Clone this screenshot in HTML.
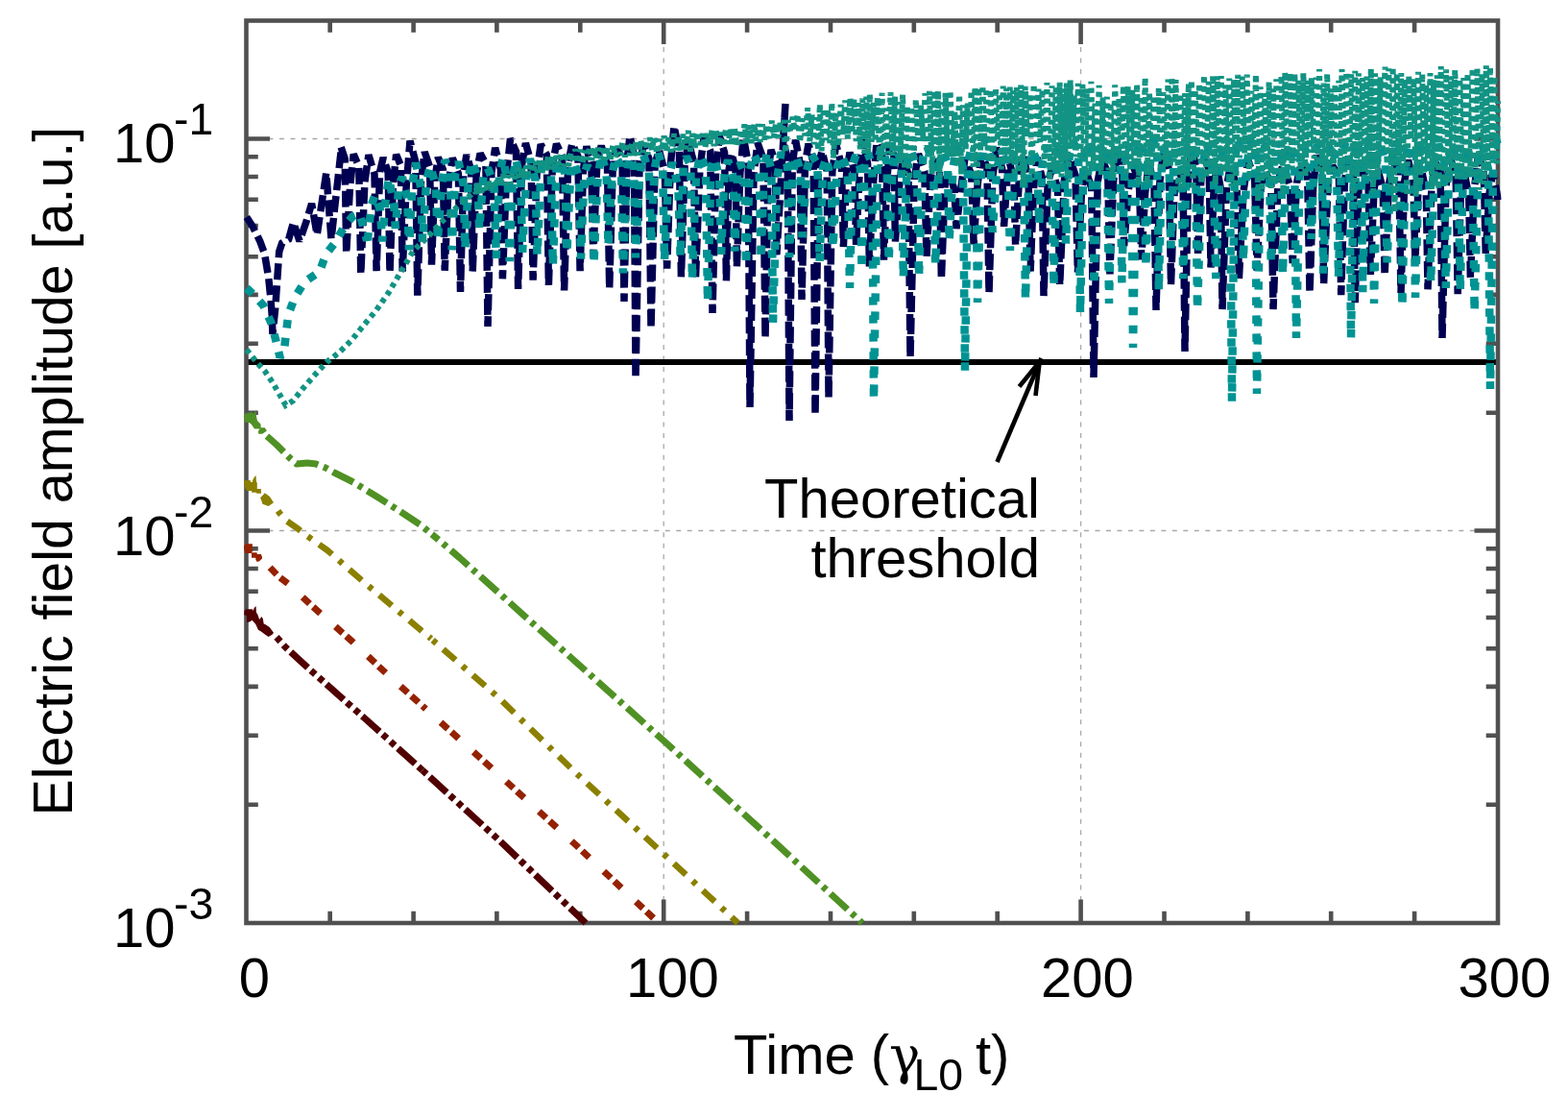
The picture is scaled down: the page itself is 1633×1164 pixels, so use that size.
<!DOCTYPE html>
<html><head><meta charset="utf-8"><title>Electric field amplitude vs time</title>
<style>html,body{margin:0;padding:0;background:#fff;overflow:hidden}svg{display:block}</style>
</head><body><svg width="1633" height="1164" viewBox="0 0 1633 1164"><g stroke="#a8a8a8" stroke-width="1.3" stroke-dasharray="5 6.48"><line x1="691.2" y1="961" x2="691.2" y2="21.5"/><line x1="1125.6" y1="961" x2="1125.6" y2="21.5"/><line x1="256.5" y1="144.5" x2="1560" y2="144.5"/><line x1="256.5" y1="552.5" x2="1560" y2="552.5"/></g><line x1="257" y1="377" x2="1560" y2="377" stroke="#000" stroke-width="6"/><path d="M343.7 961v-12.3M343.7 21.5v12.3M430.6 961v-12.3M430.6 21.5v12.3M517.4 961v-12.3M517.4 21.5v12.3M604.3 961v-12.3M604.3 21.5v12.3M691.2 961v-24.5M691.2 21.5v24.5M778.1 961v-12.3M778.1 21.5v12.3M865.0 961v-12.3M865.0 21.5v12.3M951.8 961v-12.3M951.8 21.5v12.3M1038.7 961v-12.3M1038.7 21.5v12.3M1125.6 961v-24.5M1125.6 21.5v24.5M1212.5 961v-12.3M1212.5 21.5v12.3M1299.4 961v-12.3M1299.4 21.5v12.3M1386.2 961v-12.3M1386.2 21.5v12.3M1473.1 961v-12.3M1473.1 21.5v12.3M256.5 837.7h12.3M1560 837.7h-12.3M256.5 765.8h12.3M1560 765.8h-12.3M256.5 714.9h12.3M1560 714.9h-12.3M256.5 675.3h12.3M1560 675.3h-12.3M256.5 643.0h12.3M1560 643.0h-12.3M256.5 615.7h12.3M1560 615.7h-12.3M256.5 592.0h12.3M1560 592.0h-12.3M256.5 571.2h12.3M1560 571.2h-12.3M256.5 552.5h24.5M1560 552.5h-24.5M256.5 429.7h12.3M1560 429.7h-12.3M256.5 357.8h12.3M1560 357.8h-12.3M256.5 306.9h12.3M1560 306.9h-12.3M256.5 267.3h12.3M1560 267.3h-12.3M256.5 235.0h12.3M1560 235.0h-12.3M256.5 207.7h12.3M1560 207.7h-12.3M256.5 184.0h12.3M1560 184.0h-12.3M256.5 163.2h12.3M1560 163.2h-12.3M256.5 144.5h24.5M1560 144.5h-24.5" stroke="#505050" stroke-width="4.6" fill="none"/><rect x="256.5" y="21.5" width="1303.5" height="939.5" stroke="#505050" stroke-width="4.6" fill="none"/><defs><clipPath id="pc"><rect x="250" y="15" width="1313.5" height="950"/></clipPath></defs><g clip-path="url(#pc)"><path d="M256.8 226.0L263.3 236.0L270.7 251.0L275.5 264.0L277.7 277.0L279.8 290.0L282.0 312.0L283.3 329.0L283.9 348.0L286.8 320.0L288.5 295.0L290.7 262.0L293.7 253.0L300.7 249.0L305.5 231.6L312.0 251.0L319.4 229.5L324.6 212.0L330.2 244.5L339.8 180.0L345.0 249.0L355.0 158.6L355.0 152.8L359.2 165.1L360.7 263.7L364.5 194.6L368.2 160.6L373.8 173.3L375.8 285.5L379.9 189.2L383.9 161.4L390.0 181.4L392.1 282.2L395.6 179.0L399.1 164.1L404.2 179.7L406.0 283.9L409.3 193.5L412.6 161.0L417.4 172.3L419.2 282.5L423.1 195.0L427.0 146.6L432.8 168.4L434.8 307.6L438.5 189.1L442.2 158.1L447.6 173.8L449.5 275.7L452.9 186.2L456.3 163.9L461.4 176.4L463.2 281.8L467.2 189.4L471.3 164.5L477.4 180.6L479.5 303.9L482.7 181.1L485.9 161.2L490.6 177.1L492.2 282.5L496.2 180.6L500.1 159.7L505.9 170.4L508.0 340.0L511.9 179.8L515.7 153.8L521.4 176.2L523.4 290.3L527.5 182.0L531.5 144.3L537.5 157.8L539.6 300.9L543.5 171.5L547.4 149.1L553.1 169.3L555.1 291.7L559.2 178.1L563.2 150.4L569.3 161.0L571.4 296.9L575.4 171.0L579.5 149.8L585.5 162.4L587.6 302.5L591.7 170.7L595.8 149.6L601.9 162.7L604.1 282.1L607.5 176.3L610.9 152.3L616.0 177.2L617.8 268.5L622.0 164.8L626.2 152.0L632.5 171.6L634.7 300.5L638.5 163.6L642.3 154.2L648.0 164.4L650.0 314.0L653.0 167.4L656.0 141.4L660.4 162.5L662.0 394.0L666.0 175.4L670.0 150.6L675.9 165.2L678.0 342.0L682.1 171.3L686.3 156.1L692.4 179.2L694.6 279.7L698.3 172.2L702.0 131.4L707.4 157.8L709.4 288.3L713.1 172.8L716.9 147.7L722.5 168.7L724.5 288.9L728.9 175.3L733.2 142.3L739.7 157.1L742.0 326.0L745.6 178.1L749.2 141.4L754.6 159.1L756.4 292.3L759.2 176.1L761.9 159.6L766.0 175.6L767.4 277.8L770.8 180.7L774.2 143.1L779.2 169.4L781.0 424.0L785.0 181.7L789.0 148.9L794.9 165.1L797.0 352.0L800.0 178.0L803.0 156.0L807.4 167.9L808.9 265.4L818.0 108.0L815.5 147.6L820.3 164.5L822.0 438.0L825.2 172.2L828.5 145.7L833.3 170.6L835.0 312.0L838.5 170.7L842.0 149.7L847.2 169.8L849.0 432.0L852.5 171.3L856.0 157.4L861.2 177.7L863.0 414.0L866.8 178.4L870.7 150.2L876.4 172.0L878.4 257.0L881.7 179.3L885.0 158.5L889.9 179.2L891.6 254.9L895.0 182.6L898.5 144.9L903.6 170.5L905.4 277.5L909.2 194.6L913.0 148.1L918.5 161.3L920.5 270.6L923.5 193.5L926.5 149.1L930.9 161.9L932.4 251.5L936.3 197.0L940.2 163.6L946.0 181.6L948.0 372.0L952.3 185.5L956.5 160.3L962.8 178.3L965.0 268.5L968.9 188.1L972.7 166.3L978.4 177.7L980.4 290.7L984.3 189.3L988.2 179.1L993.9 197.3L996.0 238.1L1000.5 198.2L1005.0 164.3L1011.7 182.1L1014.1 254.3L1018.1 192.5L1022.0 160.7L1027.9 173.8L1030.0 305.0L1033.9 183.1L1037.8 153.7L1043.5 175.1L1045.6 235.8L1048.6 188.9L1051.6 170.0L1056.0 187.3L1057.6 255.7L1061.5 184.0L1065.4 161.2L1071.1 187.1L1073.1 282.7L1076.6 195.5L1080.1 164.2L1085.2 184.6L1087.0 308.0L1091.2 190.7L1095.4 175.5L1101.5 195.6L1103.7 297.1L1108.4 187.6L1113.1 161.7L1120.0 182.4L1122.4 283.5L1126.6 196.9L1130.7 176.5L1136.8 196.2L1139.0 393.0L1143.2 189.2L1147.5 165.4L1153.7 180.2L1155.9 285.4L1159.6 189.4L1163.3 155.7L1168.7 170.9L1170.6 256.1L1175.2 197.9L1179.7 171.8L1186.4 189.7L1188.8 270.4L1192.6 201.7L1196.4 168.3L1202.0 194.5L1204.0 323.0L1207.9 189.5L1211.7 156.9L1217.5 176.5L1219.5 296.4L1223.1 199.6L1226.7 175.7L1232.1 187.9L1234.0 366.0L1237.4 188.7L1240.8 152.5L1245.8 174.5L1247.6 266.2L1250.9 185.3L1254.3 165.9L1259.2 175.9L1261.0 278.5L1264.0 200.7L1267.0 173.4L1271.4 196.5L1273.0 322.0L1277.4 194.7L1281.7 171.1L1288.2 197.7L1290.4 290.0L1295.1 198.6L1299.8 166.6L1306.7 187.0L1309.1 281.6L1313.3 192.3L1317.6 178.3L1323.8 192.1L1326.0 322.0L1331.0 189.5L1336.1 171.5L1343.5 193.3L1346.2 274.2L1350.6 189.9L1355.1 170.3L1361.7 182.1L1364.0 305.0L1367.7 192.4L1371.3 161.4L1376.7 181.0L1378.6 295.8L1383.2 187.3L1387.7 172.5L1394.4 183.6L1396.7 307.2L1400.3 190.2L1404.0 162.9L1409.3 172.8L1411.2 315.2L1415.2 191.4L1419.2 175.1L1425.2 197.4L1427.3 285.8L1431.0 197.1L1434.7 176.3L1440.2 196.0L1442.1 286.9L1446.3 193.8L1450.5 168.2L1456.8 177.9L1459.0 305.0L1462.7 188.6L1466.5 166.6L1472.0 190.2L1473.9 271.9L1477.2 190.6L1480.5 177.1L1485.3 200.3L1487.0 301.3L1490.8 198.0L1494.5 168.7L1500.1 178.4L1502.0 352.0L1506.0 193.8L1510.1 165.9L1516.1 178.4L1518.2 306.2L1521.5 197.6L1524.8 178.5L1529.7 203.9L1531.4 289.4L1535.4 196.8L1539.4 162.7L1545.2 176.5L1547.3 263.9L1550.9 202.3L1554.6 179.7L1560.0 206.4L1560.0 208.0" stroke="#000050" stroke-width="7.5" stroke-dasharray="17 6" fill="none" stroke-linejoin="miter" stroke-miterlimit="2" /><path d="M256.8 300.0L265.5 308.0L274.2 318.0L282.4 336.0L287.2 354.0L291.6 372.0L293.7 368.0L295.9 365.0L298.1 346.0L300.2 328.0L306.8 310.0L317.6 293.0L332.8 283.0L339.3 265.0L350.2 251.0L358.9 235.0L367.6 225.0L374.1 222.0L375.4 225.6L381.2 247.1L383.2 246.8L386.9 213.1L390.6 203.1L396.1 219.1L398.0 251.5L401.5 209.0L405.0 185.6L410.1 211.5L411.9 237.9L415.5 192.4L419.0 184.5L424.2 206.3L426.0 260.3L429.6 191.4L433.1 169.5L438.3 195.8L440.1 251.9L444.1 189.2L448.0 172.6L453.8 192.9L455.9 250.2L459.6 198.2L463.3 166.4L468.8 178.8L470.7 260.2L474.2 180.6L477.6 168.4L482.7 192.9L484.4 259.4L488.1 182.8L491.8 167.7L497.3 185.5L499.2 239.2L503.6 181.9L508.0 174.9L514.5 191.9L516.8 268.8L520.2 182.1L523.7 164.5L528.8 190.2L530.6 272.1L533.9 187.7L537.3 165.4L542.3 189.8L544.1 262.9L547.9 186.1L551.8 165.2L557.5 187.5L559.5 265.6L563.6 175.3L567.7 164.0L573.7 173.7L575.8 276.4L579.5 175.8L583.1 167.7L588.5 180.6L590.4 263.2L594.1 181.2L597.7 168.5L603.1 185.0L605.0 269.5L608.4 181.1L611.7 171.6L616.7 193.3L618.5 274.7L622.2 189.8L626.0 160.9L631.6 179.0L633.5 256.3L637.4 182.7L641.2 162.8L646.9 172.7L648.9 284.3L652.1 188.6L655.3 163.1L660.1 172.4L661.8 268.3L665.9 186.5L669.9 160.6L675.9 179.1L678.1 252.9L681.5 177.5L685.0 157.3L690.2 176.3L692.0 271.1L696.1 186.2L700.3 169.2L706.4 195.3L708.6 267.6L711.7 173.4L714.8 163.0L719.3 172.3L720.9 291.1L724.9 184.7L729.0 161.2L734.9 174.7L737.0 314.0L740.5 175.5L744.1 164.6L749.3 185.8L751.1 264.8L754.7 176.7L758.2 166.9L763.5 184.7L765.3 261.7L768.2 176.0L771.1 170.0L775.5 182.5L777.0 275.9L780.9 177.8L784.8 160.1L790.5 172.3L792.6 269.7L795.7 178.5L798.8 158.0L803.4 177.8L805.0 336.0L809.3 186.4L813.6 158.5L819.9 171.9L822.1 267.9L825.5 184.9L828.8 161.9L833.8 178.0L835.6 247.1L840.1 177.9L844.6 159.8L851.3 170.7L853.6 272.4L857.1 175.0L860.6 164.3L865.7 190.3L867.5 258.1L871.9 173.9L876.3 161.6L882.7 177.1L885.0 300.0L888.1 171.4L891.3 161.7L895.9 174.8L897.5 280.1L900.6 166.3L903.8 159.7L908.4 171.5L910.0 416.0L913.9 167.5L917.8 153.4L923.6 169.2L925.6 272.0L929.4 178.8L933.2 156.7L938.8 166.1L940.8 289.1L944.8 168.3L948.9 157.2L954.9 174.8L957.0 288.0L961.3 164.0L965.6 152.4L972.0 170.8L974.2 275.5L977.8 174.8L981.4 156.8L986.8 169.2L988.6 251.1L992.7 173.4L996.8 151.9L1002.9 175.1L1005.0 386.0L1008.2 168.9L1011.5 154.1L1016.3 164.3L1018.0 315.0L1021.9 177.9L1025.8 144.7L1031.6 162.8L1033.6 241.9L1038.2 175.2L1042.8 158.6L1049.5 172.3L1051.9 260.8L1055.9 174.7L1060.0 150.9L1065.9 168.4L1068.0 312.0L1071.5 176.3L1075.0 156.5L1080.3 167.9L1082.1 233.7L1085.9 167.5L1089.7 153.5L1095.4 176.6L1097.4 298.3L1100.5 172.5L1103.7 147.0L1108.3 159.5L1110.0 253.5L1113.7 160.8L1117.5 147.7L1123.0 158.0L1125.0 326.0L1128.6 163.3L1132.2 148.7L1137.6 172.8L1139.5 297.5L1143.3 161.0L1147.2 150.7L1153.0 160.8L1155.0 316.0L1158.3 174.6L1161.7 152.7L1166.6 162.0L1168.4 294.4L1171.3 170.3L1174.2 149.9L1178.5 162.6L1180.0 362.0L1183.4 166.3L1186.7 145.1L1191.7 164.4L1193.4 277.8L1196.8 177.4L1200.1 140.1L1205.1 159.8L1206.8 302.6L1210.0 168.3L1213.1 152.3L1217.8 173.1L1219.4 258.3L1222.6 160.6L1225.8 150.1L1230.5 169.7L1232.2 290.1L1235.9 169.9L1239.6 149.0L1245.1 162.4L1247.0 322.0L1251.8 177.1L1256.6 149.5L1263.8 174.6L1266.3 290.1L1270.5 169.6L1274.6 154.6L1280.8 165.2L1283.0 418.0L1285.9 168.3L1288.9 144.4L1293.2 162.8L1294.8 271.7L1298.3 176.6L1301.9 144.8L1307.2 159.2L1309.0 410.0L1312.7 160.0L1316.3 149.6L1321.8 164.2L1323.7 274.1L1326.8 163.3L1329.8 148.0L1334.3 159.8L1335.9 285.8L1339.5 166.5L1343.0 151.0L1348.2 161.2L1350.0 352.0L1353.9 167.9L1357.8 151.2L1363.6 167.0L1365.6 248.8L1368.7 166.8L1371.9 150.7L1376.6 164.0L1378.2 284.6L1382.2 162.0L1386.1 149.3L1392.0 170.2L1394.0 288.8L1397.3 161.5L1400.5 149.9L1405.3 166.6L1407.0 352.0L1410.0 172.1L1413.1 147.1L1417.6 166.1L1419.2 304.2L1422.1 168.4L1425.1 147.5L1429.5 173.5L1431.0 316.0L1434.4 160.1L1437.8 151.8L1442.8 167.2L1444.6 273.4L1448.5 170.5L1452.5 150.3L1458.3 174.1L1460.4 319.2L1463.8 163.2L1467.2 149.9L1472.2 167.7L1474.0 310.0L1478.0 161.4L1482.1 147.0L1488.0 169.2L1490.1 294.3L1494.0 166.8L1497.9 150.6L1503.7 162.2L1505.7 300.0L1509.5 164.7L1513.2 152.1L1518.7 175.2L1520.7 303.1L1524.4 157.9L1528.1 154.0L1533.6 175.1L1535.6 324.6L1539.7 167.5L1543.8 150.9L1549.9 176.0L1552.0 405.0L1555.2 157.2L1558.4 146.0L1560.0 150.3" stroke="#009393" stroke-width="8.5" stroke-dasharray="8.5 10.5" fill="none" stroke-linejoin="miter" stroke-miterlimit="2" /><path d="M256.8 364.0L267.2 377.0L276.3 387.0L283.7 398.0L291.1 410.6L297.6 422.0L305.5 417.0L314.6 405.5L327.2 391.0L340.2 377.0L353.2 367.0L366.3 354.0L378.9 338.5L391.9 323.0L404.5 305.0L417.5 283.0L430.6 261.0L446.2 246.0L461.0 230.0L476.6 215.0L494.9 199.0L495.7 201.8L497.9 191.7L500.6 203.1L503.3 192.7L506.1 199.0L508.5 186.9L510.4 198.1L513.1 189.4L515.8 195.4L518.4 185.3L521.0 194.0L523.7 181.7L526.5 192.6L529.3 182.8L531.7 191.8L533.7 180.4L536.2 186.1L538.9 175.0L540.9 187.1L543.7 175.1L545.8 185.1L548.3 172.5L550.3 181.8L553.0 169.5L555.1 179.6L557.5 168.1L559.6 179.1L562.2 165.5L564.3 179.6L566.3 165.4L568.4 177.6L570.8 162.2L573.3 176.2L575.5 161.8L577.4 174.9L579.4 162.1L582.1 171.3L584.8 159.2L587.3 173.1L589.8 159.1L592.2 172.6L594.5 159.0L596.8 169.4L599.1 155.2L601.7 169.7L604.4 155.8L606.6 170.5L609.3 156.8L611.3 166.0L614.1 153.1L616.2 166.9L618.6 153.6L620.7 165.7L623.1 153.9L625.6 164.9L627.8 152.4L630.3 166.5L632.9 153.9L635.5 166.7L638.4 150.8L641.2 163.6L643.6 151.8L646.1 160.7L648.3 148.0L650.8 163.5L653.5 148.9L655.5 162.0L658.2 149.2L660.2 162.4L662.6 146.0L664.8 161.6L667.4 146.6L669.7 159.0L672.4 146.2L674.5 160.7L676.7 143.1L678.8 156.5L681.3 143.3L684.1 159.8L686.9 144.7L689.2 156.7L691.6 141.5L694.3 157.6L696.6 141.9L699.2 158.4L702.0 139.2L704.1 156.3L706.7 141.2L708.8 157.4L711.5 139.8L713.9 155.3L716.8 136.0L719.1 157.7L721.3 139.0L723.7 153.7L726.3 137.5L729.1 150.7L731.8 139.3L734.5 153.8L736.6 139.0L739.3 151.5L741.5 135.7L743.6 152.2L745.7 136.1L748.4 151.5L750.9 137.6L753.2 152.5L755.9 133.8L758.5 149.7L760.5 134.6L762.9 151.9L764.9 132.8L767.6 152.0L770.0 134.8L772.8 149.6L775.4 129.4L777.8 148.8L780.1 130.3L782.8 149.0L785.5 129.0L787.7 146.7L789.8 129.1L791.7 148.0L793.9 129.4L796.1 145.6L798.5 129.7L800.9 144.0L803.7 125.7L805.8 143.3L807.9 128.9L810.4 143.4L812.3 126.7L812.8 135.0L814.6 135.5L816.3 124.9L818.0 159.0L820.7 125.2L823.4 137.9L825.4 121.7L827.9 135.9L830.6 118.9L833.1 148.2L835.8 123.3L838.4 141.2L841.2 112.2L843.2 147.1L845.5 119.4L847.9 150.3L849.7 122.2L852.0 156.6L853.8 108.5L855.6 157.3L858.0 112.9L860.5 146.1L862.2 113.6L864.3 149.1L866.3 106.9L868.0 164.9L870.5 117.4L873.1 152.3L875.6 108.9L878.1 139.9L880.2 104.5L882.9 144.5L885.4 102.1L887.5 138.8L889.5 103.0L891.7 147.0L893.7 107.2L895.8 155.4L898.2 102.5L900.3 159.9L902.3 100.6L904.2 158.8L905.8 97.8L907.7 147.8L909.8 107.0L911.5 147.5L914.0 101.5L916.4 173.9L918.6 96.7L920.1 161.5L922.8 112.5L924.9 160.2L927.5 96.0L929.5 161.8L932.1 100.5L933.7 159.2L935.5 106.2L937.3 170.1L940.1 98.6L942.2 181.0L945.0 110.3L947.1 187.1L949.1 111.1L951.7 163.6L953.8 103.7L956.2 146.7L958.9 109.7L961.7 147.2L963.4 97.2L966.2 163.4L968.0 94.9L970.7 181.1L973.4 94.4L974.9 155.9L977.0 94.6L978.6 184.4L981.1 106.4L982.9 159.9L984.6 96.9L987.0 163.4L989.6 94.4L992.2 163.0L994.3 116.2L996.3 172.9L999.1 98.4L1001.2 181.7L1002.9 109.2L1005.7 155.0L1007.7 107.5L1009.8 147.5L1011.6 94.6L1013.6 173.8L1015.4 90.9L1017.5 204.2L1019.2 91.4L1021.2 157.1L1023.4 89.0L1025.6 152.2L1027.3 92.0L1029.1 177.8L1031.5 93.2L1034.1 173.8L1036.9 91.6L1038.9 146.2L1041.0 97.0L1042.7 176.5L1044.7 89.6L1046.4 166.9L1048.2 92.0L1049.9 166.3L1051.7 90.5L1053.3 169.7L1055.0 94.2L1056.7 183.2L1058.9 91.1L1060.5 179.8L1063.2 88.6L1065.9 193.8L1067.8 89.9L1069.8 142.3L1072.3 97.5L1074.6 187.9L1076.6 87.7L1079.2 149.2L1081.5 92.5L1083.1 148.2L1085.6 93.2L1087.6 172.2L1090.4 86.1L1093.2 192.2L1095.5 89.3L1097.6 176.9L1099.7 89.9L1101.3 179.9L1103.6 85.8L1105.5 184.4L1107.2 92.4L1109.3 167.3L1110.9 86.5L1112.6 189.6L1114.7 83.6L1116.4 153.3L1118.9 99.2L1120.4 163.3L1122.8 86.8L1125.2 166.5L1127.4 87.7L1129.6 189.7L1131.9 92.3L1134.1 189.3L1136.4 84.8L1138.6 177.3L1140.5 107.5L1142.0 168.9L1144.6 88.9L1146.8 182.0L1148.6 101.3L1150.1 170.8L1152.9 100.7L1154.5 177.3L1156.5 107.1L1159.0 186.1L1161.2 88.4L1163.8 165.1L1165.4 102.5L1168.1 166.7L1169.9 89.3L1172.4 187.7L1174.7 90.0L1177.3 177.3L1179.4 93.7L1181.4 172.9L1184.1 87.4L1185.9 192.7L1188.6 100.0L1191.0 162.4L1192.6 80.8L1194.5 191.9L1197.1 96.2L1198.7 183.7L1201.5 99.5L1204.2 165.9L1206.8 91.2L1209.1 178.1L1211.6 96.2L1214.1 174.0L1216.5 82.6L1218.8 174.2L1220.5 80.2L1222.6 168.8L1224.5 83.0L1227.1 197.7L1229.3 97.4L1232.0 195.4L1234.1 97.0L1236.2 184.8L1237.9 87.0L1239.4 170.1L1240.9 83.7L1242.5 197.4L1244.7 93.3L1247.2 161.7L1249.0 87.0L1251.2 191.5L1254.0 78.5L1256.2 184.7L1258.8 84.9L1261.0 182.5L1263.2 78.7L1265.7 192.2L1267.8 79.4L1270.2 173.6L1271.8 79.1L1273.5 179.4L1276.3 88.4L1278.5 179.2L1280.3 81.5L1282.4 194.4L1285.0 82.6L1287.2 199.6L1289.1 77.7L1291.0 164.3L1293.7 79.7L1296.2 159.7L1298.7 77.6L1301.3 186.4L1303.3 94.6L1305.9 159.0L1307.9 77.5L1310.2 209.9L1312.6 90.2L1314.4 199.0L1317.1 97.0L1319.6 186.8L1321.6 85.4L1323.9 195.9L1326.1 92.2L1327.7 192.6L1329.3 82.4L1331.7 191.7L1334.5 78.9L1336.2 201.7L1338.3 75.1L1341.0 188.1L1343.5 75.9L1345.6 175.9L1348.4 76.3L1350.5 167.4L1352.1 83.7L1354.7 182.0L1357.4 76.1L1359.5 184.0L1361.9 83.8L1364.3 158.8L1365.9 81.1L1368.7 165.1L1370.8 80.6L1372.4 180.7L1374.1 72.0L1376.1 201.9L1378.5 86.5L1380.2 179.0L1382.2 76.7L1384.2 202.5L1385.9 92.2L1388.5 186.0L1390.5 87.9L1392.7 164.7L1394.3 83.9L1396.0 182.2L1397.5 72.0L1400.4 180.8L1402.3 75.0L1404.5 183.6L1407.3 77.1L1409.8 207.4L1411.3 73.7L1413.0 189.5L1414.9 76.3L1416.5 178.8L1419.1 81.1L1421.4 184.8L1423.4 79.6L1425.3 180.8L1427.8 71.8L1430.0 200.3L1432.1 76.3L1434.9 184.7L1437.6 80.4L1439.7 154.1L1442.5 69.6L1444.5 170.8L1446.3 71.4L1448.4 196.1L1450.6 69.9L1452.6 221.0L1454.7 76.2L1456.7 172.2L1459.3 76.0L1460.9 178.4L1463.0 82.7L1465.3 204.1L1467.2 78.9L1469.5 145.0L1472.2 81.7L1474.7 204.7L1477.0 74.7L1479.3 193.1L1481.2 76.8L1483.3 180.8L1485.4 88.1L1487.1 171.1L1489.5 76.1L1491.2 196.8L1492.9 83.4L1494.5 195.4L1496.7 78.2L1498.4 197.2L1500.7 69.0L1503.3 193.9L1506.0 72.3L1508.7 191.3L1511.0 79.2L1512.6 181.0L1515.3 72.8L1517.8 187.5L1520.4 82.0L1522.4 183.5L1524.3 81.1L1525.9 185.6L1528.5 76.3L1531.0 183.3L1533.6 71.2L1536.2 190.3L1538.4 70.8L1540.7 197.6L1543.4 76.9L1545.6 192.0L1547.8 68.2L1549.4 177.1L1551.9 69.9L1554.6 169.7L1556.2 79.7L1558.9 170.5L1560.0 105.1" stroke="#129383" stroke-width="6" stroke-dasharray="5 4.5" fill="none" stroke-linejoin="miter" stroke-miterlimit="2" /><path d="M254.3 432.5L256.0 430.3L262.9 429.0L263.3 431.6L266.5 427.3L267.0 433.7L268.0 438.0L271.5 441.5L271.7 445.3L275.8 445.3L277.9 448.4L273.2 451.8L269.1 451.8L269.1 448.4L270.6 446.6L265.0 446.6L261.6 441.5L259.0 439.8L254.9 439.8Z" fill="#4f9124"/><path d="M274.0 451.0L279.0 455.0L288.0 463.0L295.0 470.0L302.0 477.0L309.0 483.0L320.0 482.0L329.0 483.0L339.0 487.0L348.0 492.0L368.0 502.0L394.0 518.0L416.0 532.0L438.0 546.5L449.8 556.2" stroke="#4f9124" stroke-width="7" stroke-dasharray="24 6 5 6" fill="none" stroke-linejoin="round" stroke-dashoffset="36"/><path d="M449.8 556.2L458.0 563.0L479.0 581.0L585.0 676.0L691.0 771.0L795.0 866.0L898.0 961.0" stroke="#4f9124" stroke-width="7" stroke-dasharray="24 6 5 6" fill="none" stroke-linejoin="round" stroke-dashoffset="15"/><path d="M254.1 500.1L260.7 500.1L261.0 502.0L262.9 502.0L263.1 500.1L265.0 496.4L266.5 494.9L267.0 502.0L267.8 502.5L267.8 508.9L271.9 509.1L271.9 513.8L267.2 513.8L267.2 512.8L262.2 512.8L262.2 511.0L257.1 511.0L255.2 508.0L254.1 502.9Z" fill="#8b7f00"/><path d="M271.0 518.4L275.8 513.2L280.9 517.1L285.0 523.3L279.6 527.0L273.4 524.8L271.9 520.0Z" fill="#8b7f00"/><path d="M285.0 525.0L291.0 534.0L298.0 542.0L311.0 551.0L320.0 558.0L341.0 573.0L380.0 607.0L449.0 665.0" stroke="#8b7f00" stroke-width="6.5" stroke-dasharray="17 9.5 5 9.5" fill="none" stroke-linejoin="round" stroke-dashoffset="18.2"/><path d="M449.0 665.0L520.0 727.0L600.0 805.0L691.0 889.0L768.5 961.0" stroke="#8b7f00" stroke-width="6.5" stroke-dasharray="17 9.5 5 9.5" fill="none" stroke-linejoin="round" stroke-dashoffset="24.3"/><path d="M254.1 567.9L256.2 566.2L262.9 566.2L262.9 573.0L263.7 573.5L261.6 575.2L267.6 575.2L267.8 577.1L271.9 577.1L273.0 579.9L273.0 581.6L270.2 584.2L267.6 584.9L266.3 582.5L266.3 580.8L262.0 580.8L262.0 576.5L261.4 576.0L255.2 576.0L254.1 570.9Z" fill="#942200"/><path d="M273.0 582.5L290.0 600.0L303.0 610.0L325.0 631.0L367.0 668.0L400.0 699.0L440.0 735.0" stroke="#942200" stroke-width="7" stroke-dasharray="10 5 10 21" fill="none" stroke-linejoin="round" stroke-dashoffset="34.3"/><path d="M440.0 735.0L520.0 807.0L600.0 880.0L686.0 961.0" stroke="#942200" stroke-width="7" stroke-dasharray="10 5 10 21" fill="none" stroke-linejoin="round" stroke-dashoffset="20.4"/><path d="M254.3 636.3L256.0 634.2L262.9 634.2L263.3 635.9L265.0 632.5L266.5 631.0L267.0 638.0L268.0 638.9L270.2 644.9L272.3 642.1L273.8 644.0L274.7 649.6L276.2 650.0L280.7 653.1L285.0 658.7L283.5 660.8L279.6 663.0L276.2 660.8L272.3 657.8L268.9 655.7L266.3 650.1L264.2 647.5L262.5 645.8L259.9 647.5L257.1 647.9L256.9 641.0L254.3 640.2Z" fill="#500000"/><path d="M285.0 660.0L297.0 673.5L322.0 696.5L380.0 748.0L440.0 802.0" stroke="#500000" stroke-width="7" stroke-dasharray="6 5 6 4.5 24 4.5" fill="none" stroke-linejoin="round" stroke-dashoffset="45.5"/><path d="M440.0 802.0L520.0 875.0L610.0 961.0" stroke="#500000" stroke-width="7" stroke-dasharray="6 5 6 4.5 24 4.5" fill="none" stroke-linejoin="round" stroke-dashoffset="11.3"/></g><g stroke="#000" stroke-width="4.6" fill="none" stroke-linecap="butt" stroke-linejoin="miter"><path d="M1038.5 481L1084.5 373"/><path d="M1061.5 402.5L1084 375M1078.5 412L1082.5 378"/></g><g font-family="&apos;Liberation Sans&apos;, sans-serif" fill="#000"><text x="118" y="168.8" font-size="58">10<tspan font-size="46.4" dx="-1.5" dy="-29">-1</tspan></text><text x="118" y="577.7" font-size="58">10<tspan font-size="46.4" dx="-1.5" dy="-29">-2</tspan></text><text x="118" y="985.7" font-size="58">10<tspan font-size="46.4" dx="-1.5" dy="-29">-3</tspan></text><text x="265" y="1037.8" font-size="58" text-anchor="middle" >0</text><text x="700.3" y="1037.8" font-size="58" text-anchor="middle" >100</text><text x="1132.5" y="1037.8" font-size="58" text-anchor="middle" >200</text><text x="1567" y="1037.8" font-size="58" text-anchor="middle" >300</text><text x="1083" y="538.7" font-size="58" text-anchor="end" >Theoretical</text><text x="1083" y="601.3" font-size="58" text-anchor="end" >threshold</text><text x="764" y="1118.2" font-size="58">Time (<tspan x="926" font-family="DejaVu Serif, serif" font-size="54">γ</tspan><tspan x="951.5" y="1135" font-size="46.4">L0</tspan><tspan x="999.9" y="1118.2"> t)</tspan></text><text transform="translate(74.5 849.5) rotate(-90)" font-size="57.4">Electric field amplitude [a.u.]</text></g></svg></body></html>
